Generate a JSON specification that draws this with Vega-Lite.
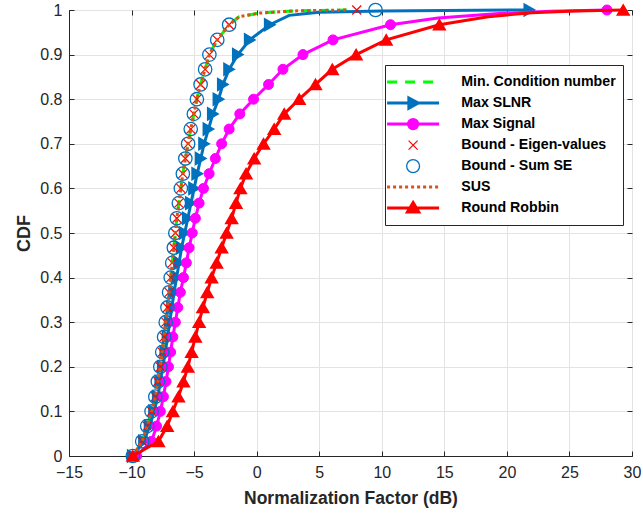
{
  "$schema": "https://vega.github.io/schema/vega-lite/v6.json",
  "width": 563,
  "height": 446,
  "autosize": {"type": "none"},
  "padding": {"left": 69, "top": 10, "right": 11, "bottom": 63},
  "background": "white",
  "config": {
    "view": {"stroke": "#262626", "strokeWidth": 1},
    "font": "Liberation Sans"
  },
  "data": {"values": [
    {"s":"Min. Condition number","x":-9.9,"y":0},{"s":"Min. Condition number","x":-9.15,"y":0.033},{"s":"Min. Condition number","x":-8.75,"y":0.067},{"s":"Min. Condition number","x":-8.4,"y":0.1},{"s":"Min. Condition number","x":-8.1,"y":0.133},{"s":"Min. Condition number","x":-7.9,"y":0.167},{"s":"Min. Condition number","x":-7.7,"y":0.2},{"s":"Min. Condition number","x":-7.55,"y":0.233},{"s":"Min. Condition number","x":-7.4,"y":0.267},{"s":"Min. Condition number","x":-7.27,"y":0.3},{"s":"Min. Condition number","x":-7.13,"y":0.333},{"s":"Min. Condition number","x":-7.0,"y":0.367},{"s":"Min. Condition number","x":-6.87,"y":0.4},{"s":"Min. Condition number","x":-6.75,"y":0.433},{"s":"Min. Condition number","x":-6.62,"y":0.467},{"s":"Min. Condition number","x":-6.5,"y":0.5},{"s":"Min. Condition number","x":-6.38,"y":0.533},{"s":"Min. Condition number","x":-6.22,"y":0.567},{"s":"Min. Condition number","x":-6.06,"y":0.6},{"s":"Min. Condition number","x":-5.9,"y":0.633},{"s":"Min. Condition number","x":-5.7,"y":0.667},{"s":"Min. Condition number","x":-5.48,"y":0.7},{"s":"Min. Condition number","x":-5.27,"y":0.733},{"s":"Min. Condition number","x":-5.02,"y":0.767},{"s":"Min. Condition number","x":-4.78,"y":0.8},{"s":"Min. Condition number","x":-4.48,"y":0.833},{"s":"Min. Condition number","x":-4.12,"y":0.867},{"s":"Min. Condition number","x":-3.78,"y":0.9},{"s":"Min. Condition number","x":-3.15,"y":0.933},{"s":"Min. Condition number","x":-2.2,"y":0.967},{"s":"Min. Condition number","x":-1.4,"y":0.985},{"s":"Min. Condition number","x":0.2,"y":0.993},{"s":"Min. Condition number","x":3,"y":0.998},{"s":"Min. Condition number","x":7.2,"y":1},

    {"s":"SUS","x":-9.9,"y":0},{"s":"SUS","x":-9.15,"y":0.033},{"s":"SUS","x":-8.75,"y":0.067},{"s":"SUS","x":-8.4,"y":0.1},{"s":"SUS","x":-8.1,"y":0.133},{"s":"SUS","x":-7.9,"y":0.167},{"s":"SUS","x":-7.7,"y":0.2},{"s":"SUS","x":-7.55,"y":0.233},{"s":"SUS","x":-7.4,"y":0.267},{"s":"SUS","x":-7.27,"y":0.3},{"s":"SUS","x":-7.13,"y":0.333},{"s":"SUS","x":-7.0,"y":0.367},{"s":"SUS","x":-6.87,"y":0.4},{"s":"SUS","x":-6.75,"y":0.433},{"s":"SUS","x":-6.62,"y":0.467},{"s":"SUS","x":-6.5,"y":0.5},{"s":"SUS","x":-6.38,"y":0.533},{"s":"SUS","x":-6.22,"y":0.567},{"s":"SUS","x":-6.06,"y":0.6},{"s":"SUS","x":-5.9,"y":0.633},{"s":"SUS","x":-5.7,"y":0.667},{"s":"SUS","x":-5.48,"y":0.7},{"s":"SUS","x":-5.27,"y":0.733},{"s":"SUS","x":-5.02,"y":0.767},{"s":"SUS","x":-4.78,"y":0.8},{"s":"SUS","x":-4.48,"y":0.833},{"s":"SUS","x":-4.12,"y":0.867},{"s":"SUS","x":-3.78,"y":0.9},{"s":"SUS","x":-3.15,"y":0.933},{"s":"SUS","x":-2.2,"y":0.967},{"s":"SUS","x":-1.4,"y":0.985},{"s":"SUS","x":0.2,"y":0.993},{"s":"SUS","x":3,"y":0.998},{"s":"SUS","x":7.3,"y":1},

    {"s":"Bound - Eigen-values","x":-9.9,"y":0},{"s":"Bound - Eigen-values","x":-9.15,"y":0.033},{"s":"Bound - Eigen-values","x":-8.75,"y":0.067},{"s":"Bound - Eigen-values","x":-8.4,"y":0.1},{"s":"Bound - Eigen-values","x":-8.1,"y":0.133},{"s":"Bound - Eigen-values","x":-7.9,"y":0.167},{"s":"Bound - Eigen-values","x":-7.7,"y":0.2},{"s":"Bound - Eigen-values","x":-7.55,"y":0.233},{"s":"Bound - Eigen-values","x":-7.4,"y":0.267},{"s":"Bound - Eigen-values","x":-7.27,"y":0.3},{"s":"Bound - Eigen-values","x":-7.13,"y":0.333},{"s":"Bound - Eigen-values","x":-7.0,"y":0.367},{"s":"Bound - Eigen-values","x":-6.87,"y":0.4},{"s":"Bound - Eigen-values","x":-6.75,"y":0.433},{"s":"Bound - Eigen-values","x":-6.62,"y":0.467},{"s":"Bound - Eigen-values","x":-6.5,"y":0.5},{"s":"Bound - Eigen-values","x":-6.38,"y":0.533},{"s":"Bound - Eigen-values","x":-6.22,"y":0.567},{"s":"Bound - Eigen-values","x":-6.06,"y":0.6},{"s":"Bound - Eigen-values","x":-5.9,"y":0.633},{"s":"Bound - Eigen-values","x":-5.7,"y":0.667},{"s":"Bound - Eigen-values","x":-5.48,"y":0.7},{"s":"Bound - Eigen-values","x":-5.27,"y":0.733},{"s":"Bound - Eigen-values","x":-5.02,"y":0.767},{"s":"Bound - Eigen-values","x":-4.78,"y":0.8},{"s":"Bound - Eigen-values","x":-4.48,"y":0.833},{"s":"Bound - Eigen-values","x":-4.12,"y":0.867},{"s":"Bound - Eigen-values","x":-3.78,"y":0.9},{"s":"Bound - Eigen-values","x":-3.15,"y":0.933},{"s":"Bound - Eigen-values","x":-2.2,"y":0.967},{"s":"Bound - Eigen-values","x":8.0,"y":1},

    {"s":"Bound - Sum SE","x":-9.9,"y":0},{"s":"Bound - Sum SE","x":-9.15,"y":0.033},{"s":"Bound - Sum SE","x":-8.75,"y":0.067},{"s":"Bound - Sum SE","x":-8.4,"y":0.1},{"s":"Bound - Sum SE","x":-8.1,"y":0.133},{"s":"Bound - Sum SE","x":-7.9,"y":0.167},{"s":"Bound - Sum SE","x":-7.7,"y":0.2},{"s":"Bound - Sum SE","x":-7.55,"y":0.233},{"s":"Bound - Sum SE","x":-7.4,"y":0.267},{"s":"Bound - Sum SE","x":-7.27,"y":0.3},{"s":"Bound - Sum SE","x":-7.13,"y":0.333},{"s":"Bound - Sum SE","x":-7.0,"y":0.367},{"s":"Bound - Sum SE","x":-6.87,"y":0.4},{"s":"Bound - Sum SE","x":-6.75,"y":0.433},{"s":"Bound - Sum SE","x":-6.62,"y":0.467},{"s":"Bound - Sum SE","x":-6.5,"y":0.5},{"s":"Bound - Sum SE","x":-6.38,"y":0.533},{"s":"Bound - Sum SE","x":-6.22,"y":0.567},{"s":"Bound - Sum SE","x":-6.06,"y":0.6},{"s":"Bound - Sum SE","x":-5.9,"y":0.633},{"s":"Bound - Sum SE","x":-5.7,"y":0.667},{"s":"Bound - Sum SE","x":-5.48,"y":0.7},{"s":"Bound - Sum SE","x":-5.27,"y":0.733},{"s":"Bound - Sum SE","x":-5.02,"y":0.767},{"s":"Bound - Sum SE","x":-4.78,"y":0.8},{"s":"Bound - Sum SE","x":-4.48,"y":0.833},{"s":"Bound - Sum SE","x":-4.12,"y":0.867},{"s":"Bound - Sum SE","x":-3.78,"y":0.9},{"s":"Bound - Sum SE","x":-3.15,"y":0.933},{"s":"Bound - Sum SE","x":-2.2,"y":0.967},{"s":"Bound - Sum SE","x":9.5,"y":1},

    {"s":"Max SLNR","x":-9.9,"y":0},{"s":"Max SLNR","x":-9.0,"y":0.033},{"s":"Max SLNR","x":-8.55,"y":0.067},{"s":"Max SLNR","x":-8.2,"y":0.1},{"s":"Max SLNR","x":-7.9,"y":0.133},{"s":"Max SLNR","x":-7.7,"y":0.167},{"s":"Max SLNR","x":-7.5,"y":0.2},{"s":"Max SLNR","x":-7.3,"y":0.233},{"s":"Max SLNR","x":-7.12,"y":0.267},{"s":"Max SLNR","x":-6.95,"y":0.3},{"s":"Max SLNR","x":-6.78,"y":0.333},{"s":"Max SLNR","x":-6.6,"y":0.367},{"s":"Max SLNR","x":-6.4,"y":0.4},{"s":"Max SLNR","x":-6.2,"y":0.433},{"s":"Max SLNR","x":-6.0,"y":0.467},{"s":"Max SLNR","x":-5.75,"y":0.5},{"s":"Max SLNR","x":-5.5,"y":0.533},{"s":"Max SLNR","x":-5.25,"y":0.567},{"s":"Max SLNR","x":-5.0,"y":0.6},{"s":"Max SLNR","x":-4.75,"y":0.633},{"s":"Max SLNR","x":-4.47,"y":0.667},{"s":"Max SLNR","x":-4.2,"y":0.7},{"s":"Max SLNR","x":-3.85,"y":0.733},{"s":"Max SLNR","x":-3.5,"y":0.767},{"s":"Max SLNR","x":-3.05,"y":0.8},{"s":"Max SLNR","x":-2.7,"y":0.833},{"s":"Max SLNR","x":-2.2,"y":0.867},{"s":"Max SLNR","x":-1.5,"y":0.9},{"s":"Max SLNR","x":-0.55,"y":0.933},{"s":"Max SLNR","x":1.05,"y":0.967},{"s":"Max SLNR","x":2.6,"y":0.988,"tail":true},{"s":"Max SLNR","x":5,"y":0.995,"tail":true},{"s":"Max SLNR","x":10,"y":0.998,"tail":true},{"s":"Max SLNR","x":15,"y":0.999,"tail":true},{"s":"Max SLNR","x":21.8,"y":1},

    {"s":"Max Signal","x":-9.6,"y":0},{"s":"Max Signal","x":-8.4,"y":0.033},{"s":"Max Signal","x":-8.0,"y":0.067},{"s":"Max Signal","x":-7.7,"y":0.1},{"s":"Max Signal","x":-7.45,"y":0.133},{"s":"Max Signal","x":-7.25,"y":0.167},{"s":"Max Signal","x":-7.05,"y":0.2},{"s":"Max Signal","x":-6.88,"y":0.233},{"s":"Max Signal","x":-6.7,"y":0.267},{"s":"Max Signal","x":-6.5,"y":0.3},{"s":"Max Signal","x":-6.3,"y":0.333},{"s":"Max Signal","x":-6.1,"y":0.367},{"s":"Max Signal","x":-5.85,"y":0.4},{"s":"Max Signal","x":-5.62,"y":0.433},{"s":"Max Signal","x":-5.4,"y":0.467},{"s":"Max Signal","x":-5.15,"y":0.5},{"s":"Max Signal","x":-4.9,"y":0.533},{"s":"Max Signal","x":-4.6,"y":0.567},{"s":"Max Signal","x":-4.25,"y":0.6},{"s":"Max Signal","x":-3.8,"y":0.633},{"s":"Max Signal","x":-3.3,"y":0.667},{"s":"Max Signal","x":-2.8,"y":0.7},{"s":"Max Signal","x":-2.2,"y":0.733},{"s":"Max Signal","x":-1.35,"y":0.767},{"s":"Max Signal","x":-0.25,"y":0.8},{"s":"Max Signal","x":0.95,"y":0.833},{"s":"Max Signal","x":2.1,"y":0.867},{"s":"Max Signal","x":3.7,"y":0.9},{"s":"Max Signal","x":6.1,"y":0.933},{"s":"Max Signal","x":10.7,"y":0.967},{"s":"Max Signal","x":14.5,"y":0.982,"tail":true},{"s":"Max Signal","x":19.4,"y":0.992,"tail":true},{"s":"Max Signal","x":23.5,"y":0.997,"tail":true},{"s":"Max Signal","x":28.0,"y":1},

    {"s":"Round Robbin","x":-9.9,"y":0},{"s":"Round Robbin","x":-7.85,"y":0.033},{"s":"Round Robbin","x":-7.15,"y":0.067},{"s":"Round Robbin","x":-6.7,"y":0.1},{"s":"Round Robbin","x":-6.25,"y":0.133},{"s":"Round Robbin","x":-5.85,"y":0.167},{"s":"Round Robbin","x":-5.5,"y":0.2},{"s":"Round Robbin","x":-5.2,"y":0.233},{"s":"Round Robbin","x":-4.9,"y":0.267},{"s":"Round Robbin","x":-4.6,"y":0.3},{"s":"Round Robbin","x":-4.3,"y":0.333},{"s":"Round Robbin","x":-3.95,"y":0.367},{"s":"Round Robbin","x":-3.6,"y":0.4},{"s":"Round Robbin","x":-3.2,"y":0.433},{"s":"Round Robbin","x":-2.8,"y":0.467},{"s":"Round Robbin","x":-2.4,"y":0.5},{"s":"Round Robbin","x":-2.0,"y":0.533},{"s":"Round Robbin","x":-1.65,"y":0.567},{"s":"Round Robbin","x":-1.3,"y":0.6},{"s":"Round Robbin","x":-0.85,"y":0.633},{"s":"Round Robbin","x":-0.2,"y":0.667},{"s":"Round Robbin","x":0.55,"y":0.7},{"s":"Round Robbin","x":1.4,"y":0.733},{"s":"Round Robbin","x":2.2,"y":0.767},{"s":"Round Robbin","x":3.4,"y":0.8},{"s":"Round Robbin","x":4.7,"y":0.833},{"s":"Round Robbin","x":6.05,"y":0.867},{"s":"Round Robbin","x":7.95,"y":0.9},{"s":"Round Robbin","x":10.35,"y":0.933},{"s":"Round Robbin","x":14.6,"y":0.967},{"s":"Round Robbin","x":18.5,"y":0.985,"tail":true},{"s":"Round Robbin","x":22,"y":0.994,"tail":true},{"s":"Round Robbin","x":25.5,"y":0.998,"tail":true},{"s":"Round Robbin","x":29.3,"y":1}
  ]},
  "resolve": {"scale": {"x": "independent", "y": "independent"}},
  "layer": [
    {
      "encoding": {
        "x": {"field": "x", "type": "quantitative",
          "scale": {"domain": [-15, 30], "nice": false, "zero": false},
          "axis": {"orient": "bottom", "values": [-15,-10,-5,0,5,10,15,20,25,30], "grid": true, "gridColor": "#e3e3e3", "gridWidth": 1,
            "tickSize": -5, "tickColor": "#262626", "domainColor": "#262626", "labelFontSize": 16, "labelColor": "#262626",
            "labelPadding": 13, "labelFlush": false, "labelOverlap": false,
            "title": "Normalization Factor (dB)", "titleFontSize": 17.5, "titleFontWeight": "bold", "titleColor": "#262626", "titlePadding": 9}},
        "y": {"field": "y", "type": "quantitative",
          "scale": {"domain": [0, 1], "nice": false, "zero": false},
          "axis": {"orient": "left", "values": [0,0.1,0.2,0.3,0.4,0.5,0.6,0.7,0.8,0.9,1], "format": "~g", "grid": true, "gridColor": "#e3e3e3", "gridWidth": 1,
            "tickSize": -5, "tickColor": "#262626", "domainColor": "#262626", "labelFontSize": 16, "labelColor": "#262626",
            "labelPadding": 12, "labelFlush": false, "labelOverlap": false,
            "title": "CDF", "titleFontSize": 18, "titleFontWeight": "bold", "titleColor": "#262626", "titlePadding": 6}}
      },
      "layer": [
        {
          "transform": [{"filter": "datum.s === 'Min. Condition number'"}],
          "mark": {"type": "line", "strokeWidth": 3, "strokeDash": [10, 8]},
          "encoding": {
            "color": {"field": "s", "type": "nominal",
              "scale": {"domain": ["Min. Condition number","Max SLNR","Max Signal","Bound - Eigen-values","Bound - Sum SE","SUS","Round Robbin"],
                        "range": ["#00FF00","#0072BD","#FF00FF","#FF0000","#0072BD","#D95319","#FF0000"]},
              "legend": {
                "orient": "none", "legendX": 316, "legendY": 55, "title": " ", "titleFontSize": 3, "titlePadding": 0,
                "padding": 7, "strokeColor": "#262626", "fillColor": "white",
                "labelFontSize": 14.2, "labelFontWeight": "bold", "labelColor": "black", "labelLimit": 300,
                "symbolSize": 289, "symbolStrokeWidth": 3, "symbolOffset": 14, "labelOffset": 41,
                "gridAlign": "all", "rowPadding": -3,
                "encode": {"symbols": {"update": {
                  "shape": {"signal": "datum.value==='Max SLNR' ? 'M-3.06,0L3.06,0M-0.5,-0.6L0.6,0L-0.5,0.6Z' : datum.value==='Max Signal' ? 'M-3.06,0L3.06,0M-0.55,0A0.55,0.55 0 1,0 0.55,0A0.55,0.55 0 1,0 -0.55,0Z' : datum.value==='Bound - Eigen-values' ? 'M-0.53,-0.53L0.53,0.53M-0.53,0.53L0.53,-0.53' : datum.value==='Bound - Sum SE' ? 'M-0.76,0A0.76,0.76 0 1,0 0.76,0A0.76,0.76 0 1,0 -0.76,0Z' : datum.value==='Round Robbin' ? 'M-3.06,0L3.06,0M0,-0.65L0.66,0.45L-0.66,0.45Z' : 'M-3.06,0L3.06,0'"},
                  "strokeDash": {"signal": "datum.value==='Min. Condition number' ? [10,8] : datum.value==='SUS' ? [3,3] : []"},
                  "strokeWidth": {"signal": "datum.value==='Bound - Eigen-values' ? 1.2 : datum.value==='Bound - Sum SE' ? 1.3 : 3"},
                  "stroke": {"signal": "scale('color', datum.value)"},
                  "fill": {"signal": "datum.value==='Bound - Sum SE' ? 'transparent' : scale('color', datum.value)"},
                  "opacity": {"value": 1}, "fillOpacity": {"value": 1}, "strokeOpacity": {"value": 1}
                }}}
              }}
          }
        },
        {
          "transform": [{"filter": "datum.s === 'Max SLNR'"}],
          "mark": {"type": "line", "strokeWidth": 3, "color": "#0072BD"}
        },
        {
          "transform": [{"filter": "datum.s === 'Max SLNR' && !datum.tail"}],
          "mark": {"type": "point", "shape": "triangle-right", "size": 144, "filled": true, "fill": "#0072BD", "stroke": "#0072BD", "strokeWidth": 1.5, "opacity": 1}
        },
        {
          "transform": [{"filter": "datum.s === 'Max Signal'"}],
          "mark": {"type": "line", "strokeWidth": 3, "color": "#FF00FF"}
        },
        {
          "transform": [{"filter": "datum.s === 'Max Signal' && !datum.tail"}],
          "mark": {"type": "point", "shape": "circle", "size": 100, "filled": true, "fill": "#FF00FF", "stroke": "#FF00FF", "strokeWidth": 1, "opacity": 1}
        },
        {
          "transform": [{"filter": "datum.s === 'Bound - Eigen-values'"}],
          "mark": {"type": "point", "shape": "M-1,-1L1,1M-1,1L1,-1", "size": 81, "filled": false, "stroke": "#FF0000", "strokeWidth": 1.2, "opacity": 1}
        },
        {
          "transform": [{"filter": "datum.s === 'Bound - Sum SE'"}],
          "mark": {"type": "point", "shape": "circle", "size": 180, "filled": false, "stroke": "#0072BD", "strokeWidth": 1.3, "opacity": 1}
        },
        {
          "transform": [{"filter": "datum.s === 'SUS'"}],
          "mark": {"type": "line", "strokeWidth": 3, "strokeDash": [3, 3], "color": "#D95319"}
        },
        {
          "transform": [{"filter": "datum.s === 'Round Robbin'"}],
          "mark": {"type": "line", "strokeWidth": 3, "color": "#FF0000"}
        },
        {
          "transform": [{"filter": "datum.s === 'Round Robbin' && !datum.tail"}],
          "mark": {"type": "point", "shape": "triangle-up", "size": 140, "filled": true, "fill": "#FF0000", "stroke": "#FF0000", "strokeWidth": 1.5, "opacity": 1}
        }
      ]
    },
    {
      "mark": {"type": "point", "opacity": 0},
      "encoding": {
        "x": {"field": "x", "type": "quantitative",
          "scale": {"domain": [-15, 30], "nice": false, "zero": false},
          "axis": {"orient": "top", "values": [-15,-10,-5,0,5,10,15,20,25,30], "grid": false, "labels": false, "domain": false,
            "tickSize": -5, "tickColor": "#262626", "title": null}},
        "y": {"field": "y", "type": "quantitative",
          "scale": {"domain": [0, 1], "nice": false, "zero": false},
          "axis": {"orient": "right", "values": [0,0.1,0.2,0.3,0.4,0.5,0.6,0.7,0.8,0.9,1], "grid": false, "labels": false, "domain": false,
            "tickSize": -5, "tickColor": "#262626", "title": null}}
      }
    }
  ]
}
